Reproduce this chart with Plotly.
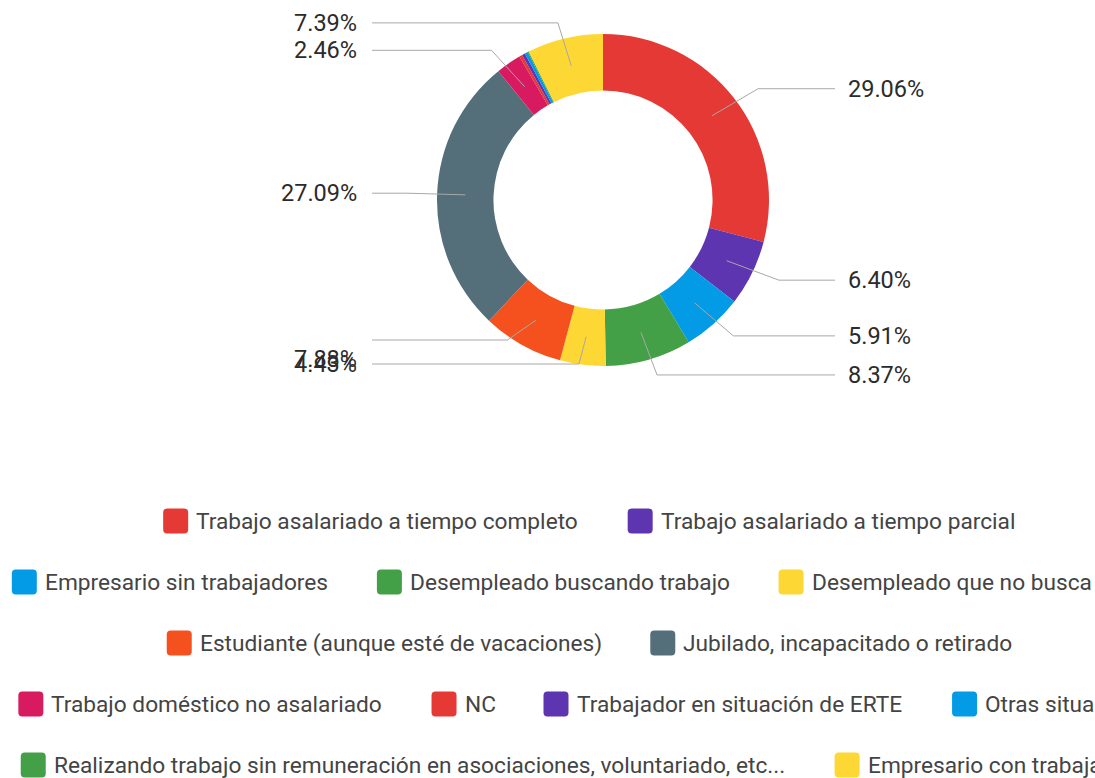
import glob
import os
import struct
import math
import plotly.graph_objects as go

# ---------------- data ----------------
categories = [
    "Trabajo asalariado a tiempo completo",
    "Trabajo asalariado a tiempo parcial",
    "Empresario sin trabajadores",
    "Desempleado buscando trabajo",
    "Desempleado que no busca trabajo",
    "Estudiante (aunque esté de vacaciones)",
    "Jubilado, incapacitado o retirado",
    "Trabajo doméstico no asalariado",
    "NC",
    "Trabajador en situación de ERTE",
    "Otras situaciones",
    "Realizando trabajo sin remuneración en asociaciones, voluntariado, etc...",
    "Empresario con trabajadores",
]
values = [29.06, 6.40, 5.91, 8.37, 4.43, 7.88, 27.09, 2.46, 0.30, 0.30, 0.30, 0.11, 7.39]
colors = [
    "#e53935", "#5e35b1", "#039be5", "#43a047", "#fdd835", "#f4511e",
    "#546e7a", "#d81b60", "#e53935", "#5e35b1", "#039be5", "#43a047", "#fdd835",
]

# ---------------- layout constants ----------------
W, H = 1095, 778
CX, CY, R = 603, 200, 166
HOLE = 0.66
FONT = "Roboto"
FS_LABEL = 23.5
FS_LEGEND = 22.7
TEXT_COLOR = "#2b2b2b"
LEGEND_TEXT = "#444444"
LINE_COLOR = "#a8a8a8"


def X(px):
    return px / W


def Y(py):
    return 1 - py / H


# ---------------- font metrics (for legend flow layout) ----------------
def find_font_file():
    cands = []
    for root in ["/usr/share/fonts", "/usr/local/share/fonts",
                 os.path.expanduser("~/.fonts"), os.path.expanduser("~/.local/share/fonts")]:
        cands += glob.glob(os.path.join(root, "**", "*.ttf"), recursive=True)
    bad = ["condensed", "mono", "slab", "serif", "flex", "italic", "light",
           "medium", "thin", "black", "bold"]
    for f in cands:
        b = os.path.basename(f).lower()
        if b.startswith("roboto") and "regular" in b and not any(k in b for k in bad):
            return f
    for f in cands:
        b = os.path.basename(f).lower()
        if b.startswith("roboto") and "[" in b and "italic" not in b:
            return f
    return None


def load_widths(path, chars):
    data = open(path, "rb").read()
    num_tables = struct.unpack(">H", data[4:6])[0]
    tables = {}
    for i in range(num_tables):
        tag, _cs, off, ln = struct.unpack(">4sIII", data[12 + 16 * i:28 + 16 * i])
        tables[tag.decode("latin1")] = (off, ln)
    head = tables["head"][0]
    upem = struct.unpack(">H", data[head + 18:head + 20])[0]
    hhea = tables["hhea"][0]
    num_h = struct.unpack(">H", data[hhea + 34:hhea + 36])[0]
    hmtx = tables["hmtx"][0]
    adv = [struct.unpack(">H", data[hmtx + 4 * i:hmtx + 4 * i + 2])[0] for i in range(num_h)]
    cmap = tables["cmap"][0]
    nsub = struct.unpack(">H", data[cmap + 2:cmap + 4])[0]
    wanted = set(ord(c) for c in chars)
    gmap = {}
    for i in range(nsub):
        pid, eid, off = struct.unpack(">HHI", data[cmap + 4 + 8 * i:cmap + 12 + 8 * i])
        st = cmap + off
        fmt = struct.unpack(">H", data[st:st + 2])[0]
        if fmt == 4 and pid in (0, 3):
            segx2 = struct.unpack(">H", data[st + 6:st + 8])[0]
            seg = segx2 // 2
            ends = struct.unpack(">%dH" % seg, data[st + 14:st + 14 + segx2])
            starts = struct.unpack(">%dH" % seg, data[st + 16 + segx2:st + 16 + 2 * segx2])
            deltas = struct.unpack(">%dh" % seg, data[st + 16 + 2 * segx2:st + 16 + 3 * segx2])
            ro_off = st + 16 + 3 * segx2
            ros = struct.unpack(">%dH" % seg, data[ro_off:ro_off + segx2])
            for c in wanted:
                for s in range(seg):
                    if starts[s] <= c <= ends[s]:
                        if ros[s] == 0:
                            g = (c + deltas[s]) & 0xFFFF
                        else:
                            addr = ro_off + 2 * s + ros[s] + 2 * (c - starts[s])
                            g = struct.unpack(">H", data[addr:addr + 2])[0]
                            if g:
                                g = (g + deltas[s]) & 0xFFFF
                        gmap[c] = g
                        break
            break
    widths = {}
    for c in wanted:
        g = gmap.get(c, 0)
        a = adv[g] if g < len(adv) else adv[-1]
        widths[chr(c)] = a / upem
    return widths


ALL_CHARS = "".join(set("".join(categories)))
WIDTHS = None
try:
    fp = find_font_file()
    if fp:
        WIDTHS = load_widths(fp, ALL_CHARS)
except Exception:
    WIDTHS = None


def text_width(s, size):
    if WIDTHS:
        return sum(WIDTHS.get(c, 0.52) for c in s) * size
    return len(s) * 0.5 * size


# ---------------- figure ----------------
fig = go.Figure()
fig.add_trace(go.Pie(
    labels=categories,
    values=values,
    marker=dict(colors=colors, line=dict(width=0)),
    sort=False,
    direction="clockwise",
    rotation=0,
    hole=HOLE,
    textinfo="none",
    hoverinfo="label+percent",
    domain=dict(x=[X(CX - R), X(CX + R)], y=[Y(CY + R), Y(CY - R)]),
    showlegend=False,
))

shapes = []
annotations = []

# ---- outside labels with leader lines ----
total = sum(values)
RA = R * (1 + HOLE) / 2
RBX, RBY = 196, 182
LEFT_END, RIGHT_END = 372, 835
LEFT_MAX_Y = 364
MIN_GAP = 24

items = []
cum = 0.0
for name, v in zip(categories, values):
    pct = v / total * 100
    theta = math.radians(360 * (cum + v / 2) / total)
    cum += v
    if pct < 1:
        continue
    s, c = math.sin(theta), math.cos(theta)
    items.append(dict(
        pct=pct, right=s > 0,
        ax=CX + RA * s, ay=CY - RA * c,
        bx=CX + RBX * s, ny=CY - RBY * c,
    ))

for side in (True, False):
    grp = [it for it in items if it["right"] == side]
    grp.sort(key=lambda it: -it["ny"])
    prev = None
    for it in grp:
        y = it["ny"] if side else min(it["ny"], LEFT_MAX_Y)
        it["ty"] = y
        if prev is not None and y > prev - MIN_GAP:
            y = prev - MIN_GAP
        it["ly"] = y
        prev = y

for it in items:
    end = RIGHT_END if it["right"] else LEFT_END
    path = "M {},{} L {},{} L {},{}".format(
        X(it["ax"]), Y(it["ay"]), X(it["bx"]), Y(it["ly"]), X(end), Y(it["ly"]))
    shapes.append(dict(type="path", xref="paper", yref="paper", path=path,
                       line=dict(color=LINE_COLOR, width=1)))
    annotations.append(dict(
        xref="paper", yref="paper",
        x=X(end + 11) if it["right"] else X(end - 13),
        y=Y(it["ty"]),
        xanchor="left" if it["right"] else "right",
        yanchor="middle",
        text="{:.2f}%".format(it["pct"]),
        showarrow=False,
        font=dict(family=FONT, size=FS_LABEL, color=TEXT_COLOR),
    ))

# ---- legend (flow layout, centred rows) ----
SW = 25          # swatch size
SGAP = 8         # swatch-text gap
IGAP = 48        # gap between items
MAXW = 1180      # container width
LCX = 590        # container centre
ROW0, ROWH = 521, 61

rows, cur, curw = [], [], 0.0
for i, name in enumerate(categories):
    w = SW + SGAP + text_width(name, FS_LEGEND)
    add = w if not cur else w + IGAP
    if cur and curw + add > MAXW:
        rows.append((cur, curw))
        cur, curw = [i], w
    else:
        cur.append(i)
        curw += add
if cur:
    rows.append((cur, curw))


def rounded_rect(x0, y0, x1, y1, r):
    return ("M {a},{b} L {c},{b} Q {d},{b} {d},{e} L {d},{f} Q {d},{g} {c},{g} "
            "L {a},{g} Q {h},{g} {h},{f} L {h},{e} Q {h},{b} {a},{b} Z").format(
        a=X(x0 + r), b=Y(y0), c=X(x1 - r), d=X(x1), e=Y(y0 + r),
        f=Y(y1 - r), g=Y(y1), h=X(x0))


for ri, (idxs, rw) in enumerate(rows):
    ry = ROW0 + ri * ROWH
    x = LCX - rw / 2
    for i in idxs:
        shapes.append(dict(type="path", xref="paper", yref="paper",
                           path=rounded_rect(x, ry - SW / 2, x + SW, ry + SW / 2, 4),
                           fillcolor=colors[i], line=dict(width=0)))
        annotations.append(dict(
            xref="paper", yref="paper", x=X(x + SW + SGAP - 2), y=Y(ry),
            xanchor="left", yanchor="middle", text=categories[i], showarrow=False,
            font=dict(family=FONT, size=FS_LEGEND, color=LEGEND_TEXT),
        ))
        x += SW + SGAP + text_width(categories[i], FS_LEGEND) + IGAP

fig.update_layout(
    width=W, height=H,
    margin=dict(l=0, r=0, t=0, b=0),
    paper_bgcolor="white",
    plot_bgcolor="white",
    font=dict(family=FONT, size=FS_LABEL, color=TEXT_COLOR),
    showlegend=False,
    shapes=shapes,
    annotations=annotations,
)

fig.write_html("out.html")
